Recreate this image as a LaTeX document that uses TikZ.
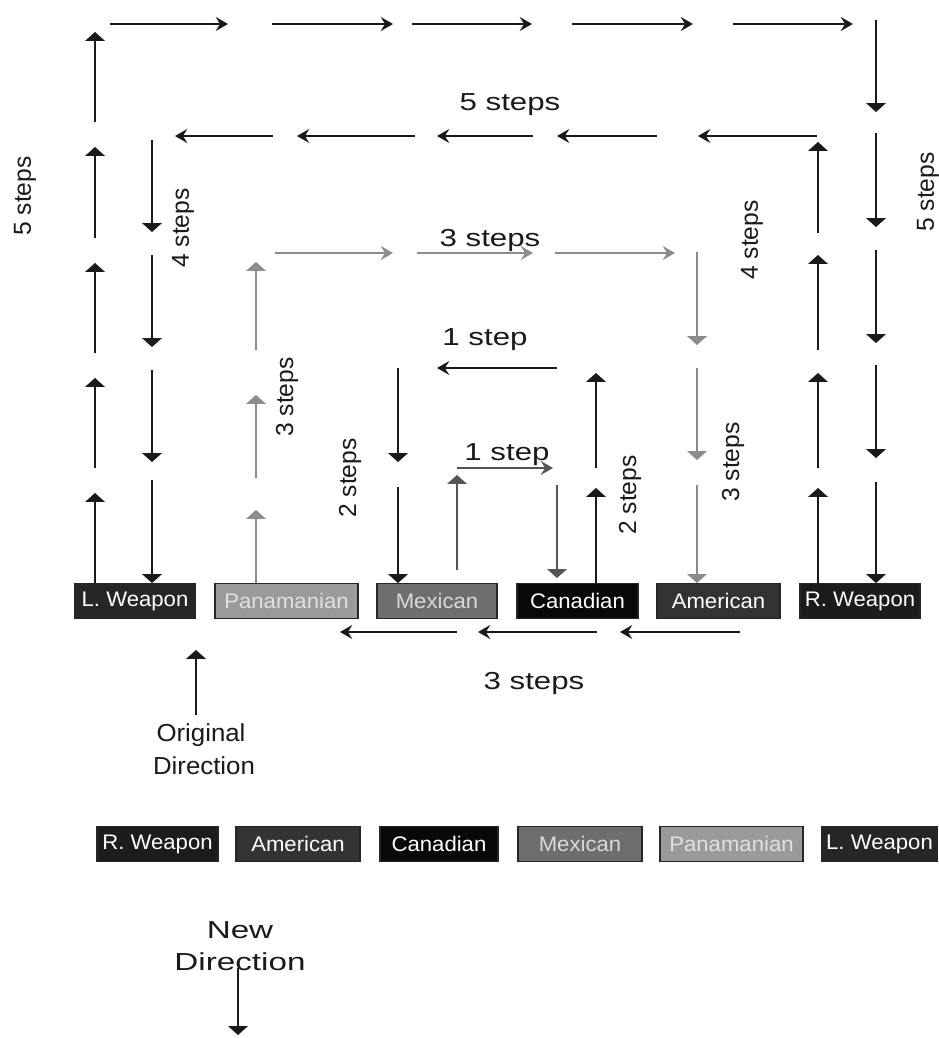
\documentclass[tikz,border=0pt]{standalone}
\usepackage{fontspec}
\setmainfont{Liberation Sans}
\usetikzlibrary{arrows.meta}
\newfontfamily\lblh[FakeStretch=1.27]{Liberation Sans}
\newfontfamily\lblv{Liberation Sans}
\newfontfamily\boxf[FakeStretch=1.05]{Liberation Sans}
\newfontfamily\dirA[FakeStretch=1.05]{Liberation Sans}
\newfontfamily\dirB[FakeStretch=1.35]{Liberation Sans}
\definecolor{ink}{HTML}{1A1A1A}
\definecolor{pale}{HTML}{8C8C8C}
\definecolor{midg}{HTML}{555555}
\definecolor{cL}{HTML}{262626}
\definecolor{cP}{HTML}{9A9A9A}
\definecolor{cM}{HTML}{6E6E6E}
\definecolor{cC}{HTML}{080808}
\definecolor{cA}{HTML}{333333}
\definecolor{cR}{HTML}{1C1C1C}
\begin{document}
\begin{tikzpicture}[x=0.02cm,y=-0.02cm,
  ln/.style={draw=ink,line width=0.9pt},
  va/.style={ln,-{Triangle[width=11pt,length=5pt]}},
  ha/.style={ln,-{Stealth[width=8pt,length=7pt,inset=2.5pt]}},
  gr/.style={draw=pale},
  dg/.style={draw=midg},
  lh/.style={font=\lblh\fontsize{14}{16}\selectfont,text=ink,inner sep=0},
  lv/.style={font=\lblv\fontsize{14}{16}\selectfont,text=ink,inner sep=0,rotate=90},
  team/.style={draw=black!85,line width=0.6pt,minimum height=0.7cm,inner sep=0,text=white,font=\boxf\fontsize{12}{14}\selectfont},
  dtxt/.style={font=\dirA\fontsize{14}{16}\selectfont,text=ink,inner sep=0},
  dtxtb/.style={font=\dirB\fontsize{14}{16}\selectfont,text=ink,inner sep=0},
]
\useasboundingbox[fill=white] (0,0) rectangle (938,1038);

% ---- top row of team boxes (original direction)
\node[team,fill=cL,minimum width=2.40cm] (tL) at (135,601) {L. Weapon};
\node[team,fill=cP,minimum width=2.86cm,text=white!88!black] (tP) at (286.5,601) {Panamanian};
\node[team,fill=cM,minimum width=2.40cm,text=white!85!black] (tM) at (437,601) {Mexican};
\node[team,fill=cC,minimum width=2.42cm] (tC) at (577.5,601) {Canadian};
\node[team,fill=cA,minimum width=2.46cm] (tA) at (718.5,601) {American};
\node[team,fill=cR,minimum width=2.40cm] (tR) at (860,601) {R. Weapon};

% ---- bottom row of team boxes (new direction)
\node[team,fill=cR,minimum width=2.42cm] (bR) at (157.5,844) {R. Weapon};
\node[team,fill=cA,minimum width=2.48cm] (bA) at (298,844) {American};
\node[team,fill=cC,minimum width=2.36cm] (bC) at (439,844) {Canadian};
\node[team,fill=cM,minimum width=2.48cm,text=white!85!black] (bM) at (580,844) {Mexican};
\node[team,fill=cP,minimum width=2.86cm,text=white!88!black] (bP) at (731.5,844) {Panamanian};
\node[team,fill=cL,minimum width=2.30cm] (bL) at (879.5,844) {L. Weapon};

% ---- L. Weapon: 5 steps up, 5 right, 5 down
\foreach \a/\b in {583/493,468/378,353/263,238/147,122/32} \draw[va] (95,\a) -- (95,\b);
\foreach \a/\b in {110/228,272/393,412/532,572/693,733/853} \draw[ha] (\a,24) -- (\b,24);
\foreach \a/\b in {20/112,133/227,250/343,365/458,482/583} \draw[va] (876,\a) -- (876,\b);

% ---- R. Weapon: 4 up, 5 left, 4 down
\foreach \a/\b in {583/488,468/373,350/255,233/142} \draw[va] (818,\a) -- (818,\b);
\foreach \a/\b in {817/698,657/557,533/437,415/297,273/175} \draw[ha] (\a,136) -- (\b,136);
\foreach \a/\b in {140/232,255/347,370/462,480/583} \draw[va] (152,\a) -- (152,\b);

% ---- Panamanian / American: 3 up, 3 right, 3 down (grey)
\foreach \a/\b in {583/510,478/395,350/262} \draw[va,gr] (256,\a) -- (256,\b);
\foreach \a/\b in {275/393,417/533,555/675} \draw[ha,gr] (\a,253) -- (\b,253);
\foreach \a/\b in {252/345,368/460,485/583} \draw[va,gr] (697,\a) -- (697,\b);

% ---- Canadian: 2 up, 1 left, 2 down
\foreach \a/\b in {583/488,468/373} \draw[va] (596,\a) -- (596,\b);
\draw[ha] (557,368) -- (437,368);
\foreach \a/\b in {368/462,487/583} \draw[va] (398,\a) -- (398,\b);

% ---- Mexican: 1 up, 1 right, 1 down
\draw[va,dg] (457,570) -- (457,475);
\draw[ha,dg] (457,468) -- (553,468);
\draw[va,dg] (557,485) -- (557,578);

% ---- bottom shift: 3 steps left
\foreach \a/\b in {740/620,597/478,457/340} \draw[ha] (\a,632) -- (\b,632);

% ---- labels
\node[lv] (s5l) at (25,196) {5 steps};
\node[lh] (s5t) at (510,105) {5 steps};
\node[lv] (s5r) at (928,192) {5 steps};
\node[lv] (s4l) at (183,228) {4 steps};
\node[lv] (s4r) at (752,240) {4 steps};
\node[lh] (s3t) at (490,240) {3 steps};
\node[lv] (s3l) at (287,397) {3 steps};
\node[lv] (s3r) at (733,462) {3 steps};
\node[lh] (s1t) at (485,340) {1 step};
\node[lh] (s1b) at (507,455) {1 step};
\node[lv] (s2l) at (350,478) {2 steps};
\node[lv] (s2r) at (630,495) {2 steps};
\node[lh] (s3b) at (534,683) {3 steps};

% ---- directions
\node[dtxt] (orig1) at (201,735) {Original};
\node[dtxt] (orig2) at (204,766) {Direction};
\coordinate (oa) at (196,715);
\coordinate (ob) at (196,650);
\draw[va] (oa) -- (ob);

\node[dtxtb] (new1) at (240,930) {New};
\node[dtxtb] (new2) at (240,962) {Direction};
\coordinate (na) at (238,968);
\coordinate (nb) at (238,1035);
\draw[va] (na) -- (nb);
\end{tikzpicture}
\end{document}
